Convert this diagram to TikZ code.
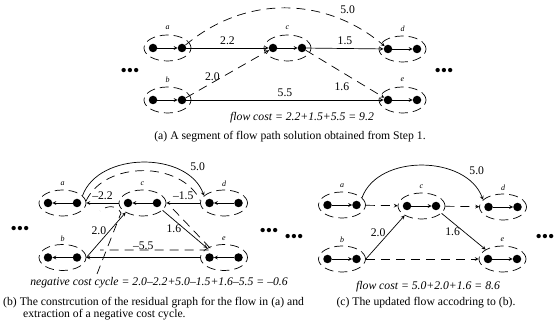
\documentclass[tikz,border=0pt]{standalone}
\usepackage{fontspec}
\setmainfont{Liberation Serif}
\usepackage{tikz}
\usetikzlibrary{arrows,shapes.geometric}

\begin{document}
\begin{tikzpicture}[
    x=1pt, y=-1pt,
    font=\fontsize{11.7}{12}\selectfont,
    dot/.style={circle, fill, inner sep=0pt, minimum size=8.5pt},
    grp/.style={ellipse, draw, dash pattern=on 9pt off 5pt, line width=0.7pt, minimum width=47pt, minimum height=26pt, inner sep=0pt},
    tag/.style={font=\fontsize{8}{8}\selectfont\itshape},
    arrow/.style={->, >=stealth, line width=0.7pt},
    flow/.style={arrow, dash pattern=on 9pt off 6pt},
    cyc/.style={line width=0.7pt, dash pattern=on 9pt off 6pt},
    more/.style={font=\fontsize{18}{18}\selectfont, inner sep=0pt},
    cost/.style={font=\fontsize{11.7}{12}\selectfont\itshape}
]
\useasboundingbox (0,0) rectangle (556,328);

% (a) flow path from step 1
\foreach \n/\x/\y in {a/167.5/48, c/287.5/48, d/402.5/49, b/167.5/100, e/402.5/100} {
    \node[grp] (A\n) at (\x,\y) {};
    \node[dot] (A\n1) at (\x-14.5,\y) {};
    \node[dot] (A\n2) at (\x+14.5,\y) {};
    \node[tag] (A\n-tag) at (\x,\y-20) {\n};
    \draw[arrow] (A\n1) -- (A\n2);
}
\node[more] (A-more1) at (130,72) {•••};
\node[more] (A-more2) at (444,72) {•••};
\draw[arrow] (Aa2) -- node[above] (A-ac) {2.2} (Ac1);
\draw[arrow] (Ac2) -- node[above] (A-cd) {1.5} (Ad1);
\draw[arrow] (Ab2) -- node[above] (A-be) {5.5} (Ae1);
\draw[flow] (Aa2) to[out=40, in=140] node[above right, pos=0.75] (A-ad) {5.0} (Ad1);
\draw[flow] (Ab2) -- node[left, pos=0.45] (A-bc) {2.0} (Ac1);
\draw[flow] (Ac2) -- node[below left, pos=0.6] (A-ce) {1.6} (Ae1);
\node[cost] (A-cost) at (302,118) {flow cost = 2.2+1.5+5.5 = 9.2};
\node (A-cap) at (290,137) {(a) A segment of flow path solution obtained from Step 1.};

% (b) residual graph
\foreach \n/\x/\y in {a/62.5/203, c/142.5/203, d/224/203, b/62.5/257.5, e/224/257.5} {
    \node[grp] (B\n) at (\x,\y) {};
    \node[dot] (B\n1) at (\x-14.5,\y) {};
    \node[dot] (B\n2) at (\x+14.5,\y) {};
    \node[tag] (B\n-tag) at (\x,\y-19) {\n};
    \draw[arrow] (B\n2) -- (B\n1);
}
\node[more] (B-more1) at (20,230) {•••};
\node[more] (B-more2) at (269,232) {•••};
\draw[arrow] (Ba.20) to[out=70, in=110] node[above right, pos=0.8] (B-ad) {5.0} (Bd.160);
\draw[arrow] (Bc) -- node[above] (B-ca) {--2.2} (Ba);
\draw[arrow] (Bd) -- node[above] (B-dc) {--1.5} (Bc);
\draw[arrow] (Bb.east) -- node[left, pos=0.6] (B-bc) {2.0} (Bc.south west);
\draw[arrow] (Bc.-20) -- node[left] (B-ce) {1.6} (Be.north west);
\draw[arrow] (Be) -- node[above=4pt] (B-eb) {--5.5} (Bb);
% negative cycle
\draw[cyc] (97,274) -- (121,213) .. controls (117,205) and (107,205) .. (100,211);
\draw[cyc] (Ba.5) to[out=65, in=115] (Bd.175);
\draw[cyc] (173,209) -- (212,250) -- (100,250);
\node[cost] (B-cost) at (159,283) {negative cost cycle = 2.0--2.2+5.0--1.5+1.6--5.5 = --0.6};
\node[anchor=west, align=left, inner sep=0pt] (B-cap) at (3,308.5) {(b) The constrcution of the residual graph for the flow in (a) and\\\hspace*{20pt}extraction of a negative cost cycle.};

% (c) updated flow
\foreach \n/\x/\y in {a/342/205, c/421.5/206, d/503/207, b/342/259, e/502.5/259} {
    \node[grp] (C\n) at (\x,\y) {};
    \node[dot] (C\n1) at (\x-14.5,\y) {};
    \node[dot] (C\n2) at (\x+14.5,\y) {};
    \node[tag] (C\n-tag) at (\x,\y-19) {\n};
    \draw[arrow] (C\n1) -- (C\n2);
}
\node[more] (C-more1) at (294,238) {•••};
\node[more] (C-more2) at (545,238) {•••};
\draw[arrow] (Ca.20) to[out=70, in=110] node[above right, pos=0.8] (C-ad) {5.0} (Cd.160);
\draw[flow] (Ca) -- (Cc);
\draw[flow] (Cc) -- (Cd);
\draw[arrow] (Cb.east) -- node[left, pos=0.6] (C-bc) {2.0} (Cc.south west);
\draw[arrow] (Cc.-20) -- node[left] (C-ce) {1.6} (Ce.north west);
\draw[flow] (Cb) -- (Ce);
\node[cost] (C-cost) at (428,287) {flow cost = 5.0+2.0+1.6 = 8.6};
\node (C-cap) at (426,303) {(c) The updated flow accodring to (b).};
\end{tikzpicture}
\end{document}
